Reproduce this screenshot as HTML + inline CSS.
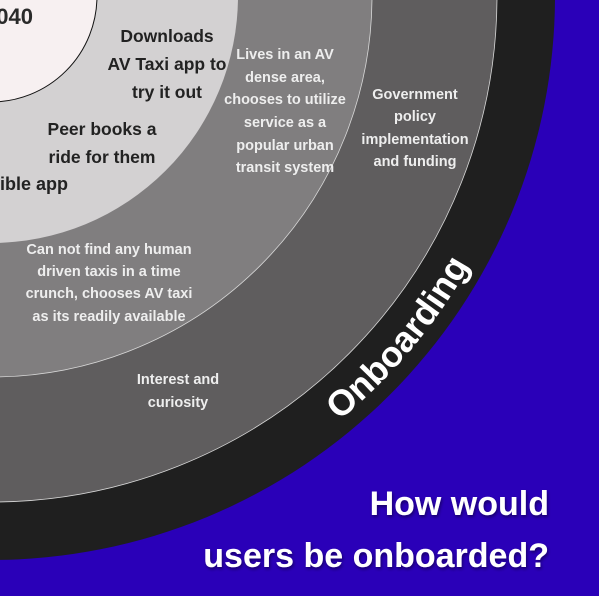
<!DOCTYPE html>
<html><head><meta charset="utf-8"><style>
html,body{margin:0;padding:0;background:#fff;}
svg{display:block;}
text{font-family:"Liberation Sans",Arial,sans-serif;font-weight:bold;}
</style></head><body>
<svg width="609" height="598" viewBox="0 0 609 598" xmlns="http://www.w3.org/2000/svg">
<defs>
<filter id="sh" x="-10%" y="-30%" width="120%" height="160%">
<feDropShadow dx="1" dy="2" stdDeviation="1.5" flood-color="#000" flood-opacity="0.45"/>
</filter>
<path id="arc" d="M223,493.6 A549,549 0 0 0 521.3,138.1" fill="none"/>
</defs>
<rect x="0" y="0" width="609" height="598" fill="#ffffff"/>
<rect x="0" y="0" width="599" height="596" fill="#2a00b8"/>
<circle cx="-9" cy="-4" r="564" fill="#1f1f1f"/>
<circle cx="-9" cy="-4" r="506" fill="#5f5d5e" stroke="#d8d8d8" stroke-width="0.8"/>
<circle cx="-9" cy="-4" r="381" fill="#807e7f" stroke="#d8d8d8" stroke-width="0.8"/>
<circle cx="-9" cy="-4" r="247" fill="#d3d1d2"/>
<circle cx="-9" cy="-4" r="106" fill="#f7f0f1" stroke="#111" stroke-width="1"/>

<text x="33" y="24" font-size="22" fill="#2a2a2a" text-anchor="end">2040</text>

<g font-size="17.5" fill="#222" text-anchor="middle">
<text x="167" y="42">Downloads</text>
<text x="167" y="70">AV Taxi app to</text>
<text x="167" y="98">try it out</text>
<text x="102" y="135">Peer books a</text>
<text x="102" y="163">ride for them</text>
</g>
<text x="68" y="190" font-size="18" fill="#222" text-anchor="end">sible app</text>

<g font-size="14.5" fill="#eeeeee" text-anchor="middle">
<text x="285" y="59">Lives in an AV</text>
<text x="285" y="82">dense area,</text>
<text x="285" y="104">chooses to utilize</text>
<text x="285" y="127">service as a</text>
<text x="285" y="150">popular urban</text>
<text x="285" y="172">transit system</text>

<text x="415" y="99">Government</text>
<text x="415" y="121">policy</text>
<text x="415" y="144">implementation</text>
<text x="415" y="166">and funding</text>

<text x="109" y="254">Can not find any human</text>
<text x="109" y="276">driven taxis in a time</text>
<text x="109" y="298">crunch, chooses AV taxi</text>
<text x="109" y="321">as its readily available</text>

<text x="178" y="384">Interest and</text>
<text x="178" y="407">curiosity</text>
</g>

<text font-size="36" fill="#ffffff"><textPath href="#arc" startOffset="50%" text-anchor="middle">Onboarding</textPath></text>

<g font-size="34" fill="#ffffff" text-anchor="end" filter="url(#sh)">
<text x="549" y="515">How would</text>
<text x="549" y="567">users be onboarded?</text>
</g>
</svg>
</body></html>
